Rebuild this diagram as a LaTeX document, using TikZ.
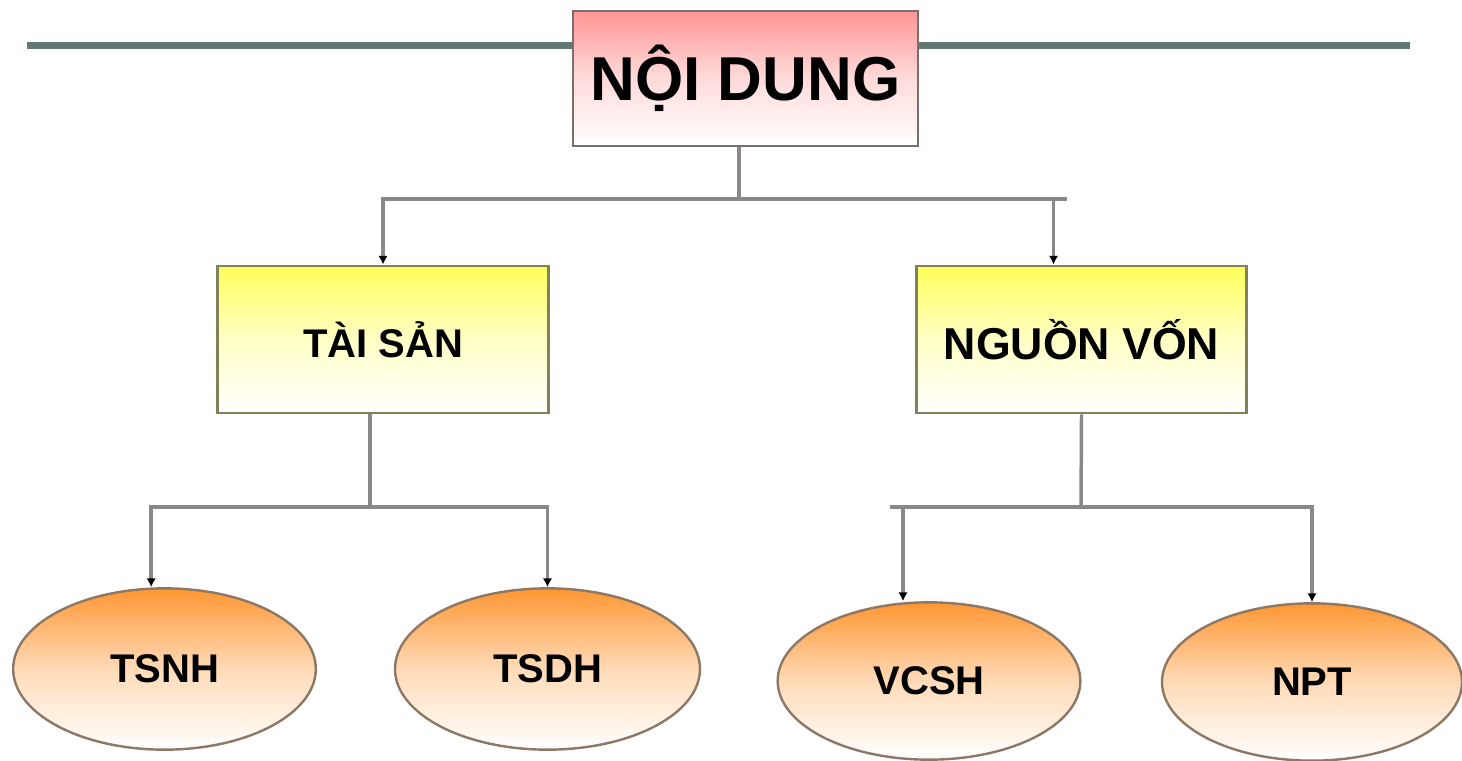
\documentclass[tikz,border=0pt]{standalone}
\usepackage{fontspec}
\setmainfont{Liberation Sans}
\usetikzlibrary{shapes.geometric,arrows.meta}

\definecolor{rulegray}{RGB}{97,120,117}
\definecolor{linkgray}{RGB}{136,136,136}
\definecolor{titlepink}{RGB}{255,150,150}
\definecolor{boxyellow}{RGB}{255,255,90}
\definecolor{ovalorange}{RGB}{255,150,50}
\definecolor{titleedge}{RGB}{125,110,110}
\definecolor{boxedge}{RGB}{130,130,90}
\definecolor{ovaledge}{RGB}{140,120,100}

\tikzset{
  titlebox/.style={draw=titleedge,line width=2.2pt,top color=titlepink,bottom color=white,
    middle color=titlepink!35!white,
    minimum width=258.75pt,minimum height=101.25pt,inner sep=0pt,
    font=\fontsize{46.5}{50}\selectfont\bfseries},
  itembox/.style={draw=boxedge,line width=2.2pt,top color=boxyellow,bottom color=white,
    middle color=boxyellow!35!white,
    minimum width=248pt,minimum height=110.25pt,inner sep=0pt},
  oval/.style={ellipse,draw=ovaledge,line width=1.8pt,top color=ovalorange,bottom color=white,
    middle color=ovalorange!35!white,
    minimum width=227pt,minimum height=121pt,inner sep=0pt,
    font=\fontsize{30}{34}\selectfont\bfseries},
  link/.style={draw=linkgray,line width=2.6pt},
  linkarrow/.style={-{Latex[length=6.5pt,width=7pt,color=black]}}
}

\begin{document}
\begin{tikzpicture}[x=0.75pt,y=0.75pt,yscale=-1,xscale=1]
\useasboundingbox (0,0) rectangle (1462,760);

%Straight Lines: top rule
\draw[rulegray,line width=5.25pt] (27,45) -- (1410,45);

%Shape: Title
\node[titlebox] (noidung) at (745.5,78.5) {NỘI DUNG};
%Shape: Boxes
\node[itembox,font=\fontsize{30}{34}\selectfont\bfseries] (taisan) at (383,339.5) {TÀI SẢN};
\node[itembox,font=\fontsize{33.5}{38}\selectfont\bfseries] (nguonvon) at (1081.5,339.5) {NGUỒN VỐN};
%Shape: Ellipses
\node[oval] (tsnh) at (164.5,669) {TSNH};
\node[oval,minimum width=228.75pt] (tsdh) at (547.5,669) {TSDH};
\node[oval,minimum height=118pt] (vcsh) at (929,681) {VCSH};
\node[oval,minimum height=118pt,minimum width=225pt] (npt) at (1312,682) {NPT};

%Straight Lines: first level
\coordinate (hubtop) at (739,199);
\draw[link] (noidung.south -| hubtop) -- (hubtop);
\draw[link] (hubtop) -- (1067,199);
\draw[link,linkarrow] (hubtop) -| (taisan.north);
\draw[link,linkarrow] (hubtop) -| ([xshift=-21pt]nguonvon.north);

%Straight Lines: second level, left
\coordinate (hubleft) at (370,507);
\draw[link] (taisan.south -| hubleft) -- (hubleft);
\draw[link,linkarrow] (hubleft) -| ([xshift=-10pt]tsnh.north);
\draw[link,linkarrow] (hubleft) -| (tsdh.north);

%Straight Lines: second level, right
\coordinate (hubright) at (1081,507);
\draw[link] (nguonvon.south) -- (hubright);
\draw[link] (hubright) -- (890,507);
\draw[link,linkarrow] (hubright) -| ([xshift=-19.5pt]vcsh.north);
\draw[link,linkarrow] (hubright) -| (npt.north);

\end{tikzpicture}
\end{document}
